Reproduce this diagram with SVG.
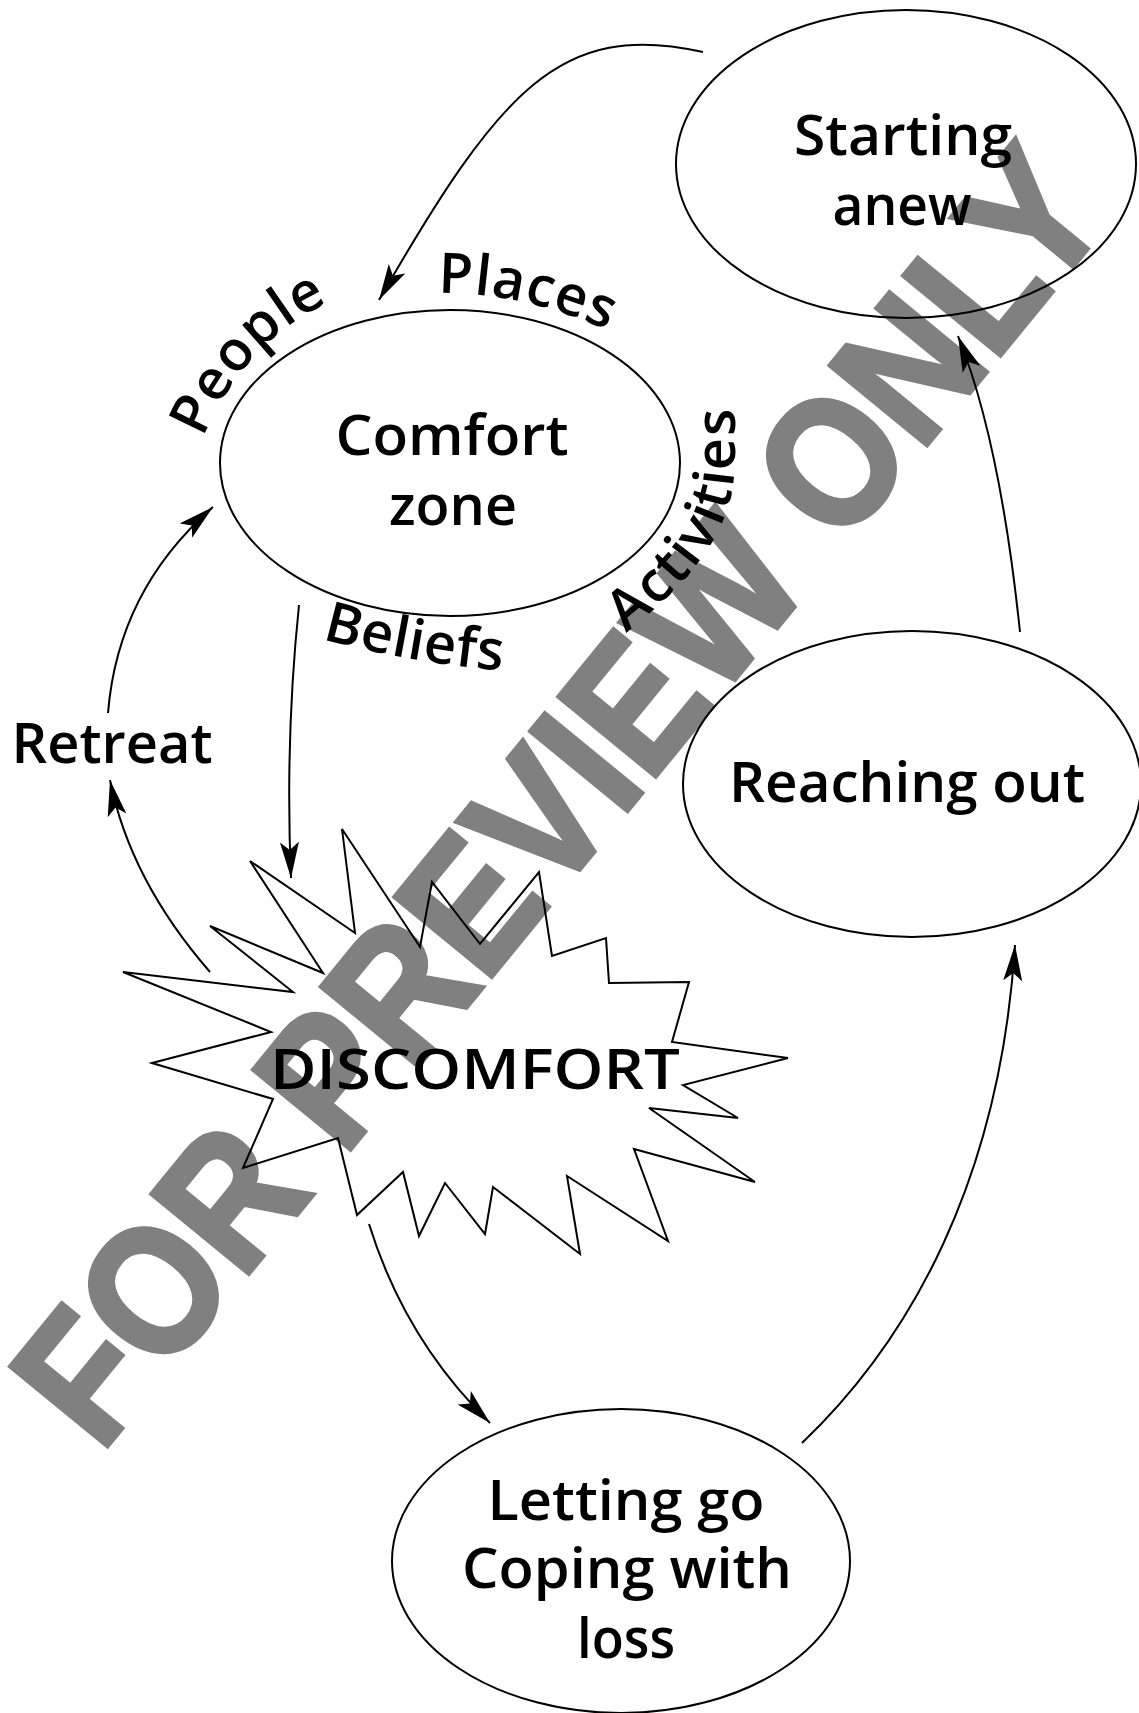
<svg xmlns="http://www.w3.org/2000/svg" width="1139" height="1713" viewBox="0 0 1139 1713">
<defs>
<style>
.node{fill:none;stroke:#000;stroke-width:2}
.lbl{font-family:"Open Sans","Noto Sans","Liberation Sans",sans-serif;font-weight:600;font-size:56px;fill:#000}
.c{text-anchor:middle}
.edge{fill:none;stroke:#000;stroke-width:2}
.wm{font-family:"Liberation Sans",Arial,sans-serif;font-weight:700;font-size:182px;fill:#808080;stroke:#808080;stroke-width:5;stroke-linejoin:miter;text-anchor:middle}
</style>
<marker id="ah" viewBox="0 0 36 20" refX="36" refY="10" markerWidth="36" markerHeight="20" markerUnits="userSpaceOnUse" orient="auto">
<path d="M0,0.5 L36,10 L0,19.5 L8,10 Z" fill="#000"/>
</marker>
<path id="pPeople" d="M203,438 Q245,340 330,302"/>
<path id="pPlaces" d="M438,293 Q525,292 616,334"/>
<path id="pBeliefs" d="M322,639 Q405,662 504,671"/>
<path id="pActivities" d="M626,633 C692,580 735,530 735,460 L735,380"/>
</defs>

<g id="watermark">
<text class="wm" transform="translate(557,794) rotate(-50.7)" x="0" y="65" textLength="1600" lengthAdjust="spacingAndGlyphs">FOR PREVIEW ONLY</text>
</g>

<g id="connectors">
<path class="edge" d="M703,52 C560,20 500,90 379,300" marker-end="url(#ah)"/>
<path class="edge" d="M299,605 Q285,740 291,878" marker-end="url(#ah)"/>
<path class="edge" d="M210,972 Q130,880 110,780" marker-end="url(#ah)"/>
<path class="edge" d="M108,713 Q118,590 213,507" marker-end="url(#ah)"/>
<path class="edge" d="M369,1224 Q405,1340 490,1423" marker-end="url(#ah)"/>
<path class="edge" d="M802,1443 C910,1340 1000,1180 1015,945" marker-end="url(#ah)"/>
<path class="edge" d="M1020,632 Q1000,440 958,336" marker-end="url(#ah)"/>
</g>

<g id="starting-anew">
<ellipse class="node" cx="906" cy="164" rx="230" ry="154"/>
<text class="lbl c" x="903" y="155" textLength="218" lengthAdjust="spacingAndGlyphs">Starting</text>
<text class="lbl c" x="902" y="225" textLength="139" lengthAdjust="spacingAndGlyphs">anew</text>
</g>

<g id="comfort-zone">
<ellipse class="node" cx="450" cy="463" rx="230" ry="153"/>
<text class="lbl c" x="452" y="455" textLength="233" lengthAdjust="spacingAndGlyphs">Comfort</text>
<text class="lbl c" x="453" y="525" textLength="128" lengthAdjust="spacingAndGlyphs">zone</text>
</g>

<g id="comfort-labels">
<text class="lbl" letter-spacing="1"><textPath href="#pPeople">People</textPath></text>
<text class="lbl" letter-spacing="1"><textPath href="#pPlaces">Places</textPath></text>
<text class="lbl" letter-spacing="0.5"><textPath href="#pBeliefs">Beliefs</textPath></text>
<text class="lbl" letter-spacing="2"><textPath href="#pActivities">Activities</textPath></text>
</g>

<g id="reaching-out">
<ellipse class="node" cx="912" cy="784" rx="229" ry="153"/>
<text class="lbl c" x="907" y="802" textLength="356" lengthAdjust="spacingAndGlyphs">Reaching out</text>
</g>

<g id="letting-go">
<ellipse class="node" cx="621" cy="1561" rx="229" ry="152"/>
<text class="lbl c" x="626" y="1520" textLength="277" lengthAdjust="spacingAndGlyphs">Letting go</text>
<text class="lbl c" x="627" y="1588" textLength="330" lengthAdjust="spacingAndGlyphs">Coping with</text>
<text class="lbl c" x="626" y="1658" textLength="98" lengthAdjust="spacingAndGlyphs">loss</text>
</g>

<g id="retreat">
<text class="lbl c" x="112" y="763" textLength="201" lengthAdjust="spacingAndGlyphs">Retreat</text>
</g>

<g id="discomfort">
<polygon class="node" points="152,1063 271,1032 123,972 293,992 210,926 323,973 250,861 355,933 342,829 420,947 432,882 480,944 539,872 552,956 606,938 609,983 689,982 672,1042 788,1058 683,1085 738,1118 649,1108 755,1182 634,1149 668,1241 567,1176 580,1254 493,1187 485,1234 445,1183 419,1236 403,1172 357,1215 338,1138 243,1168 273,1099"/>
<text class="lbl c" x="475" y="1089" font-size="57" textLength="410" lengthAdjust="spacingAndGlyphs">DISCOMFORT</text>
</g>
</svg>
